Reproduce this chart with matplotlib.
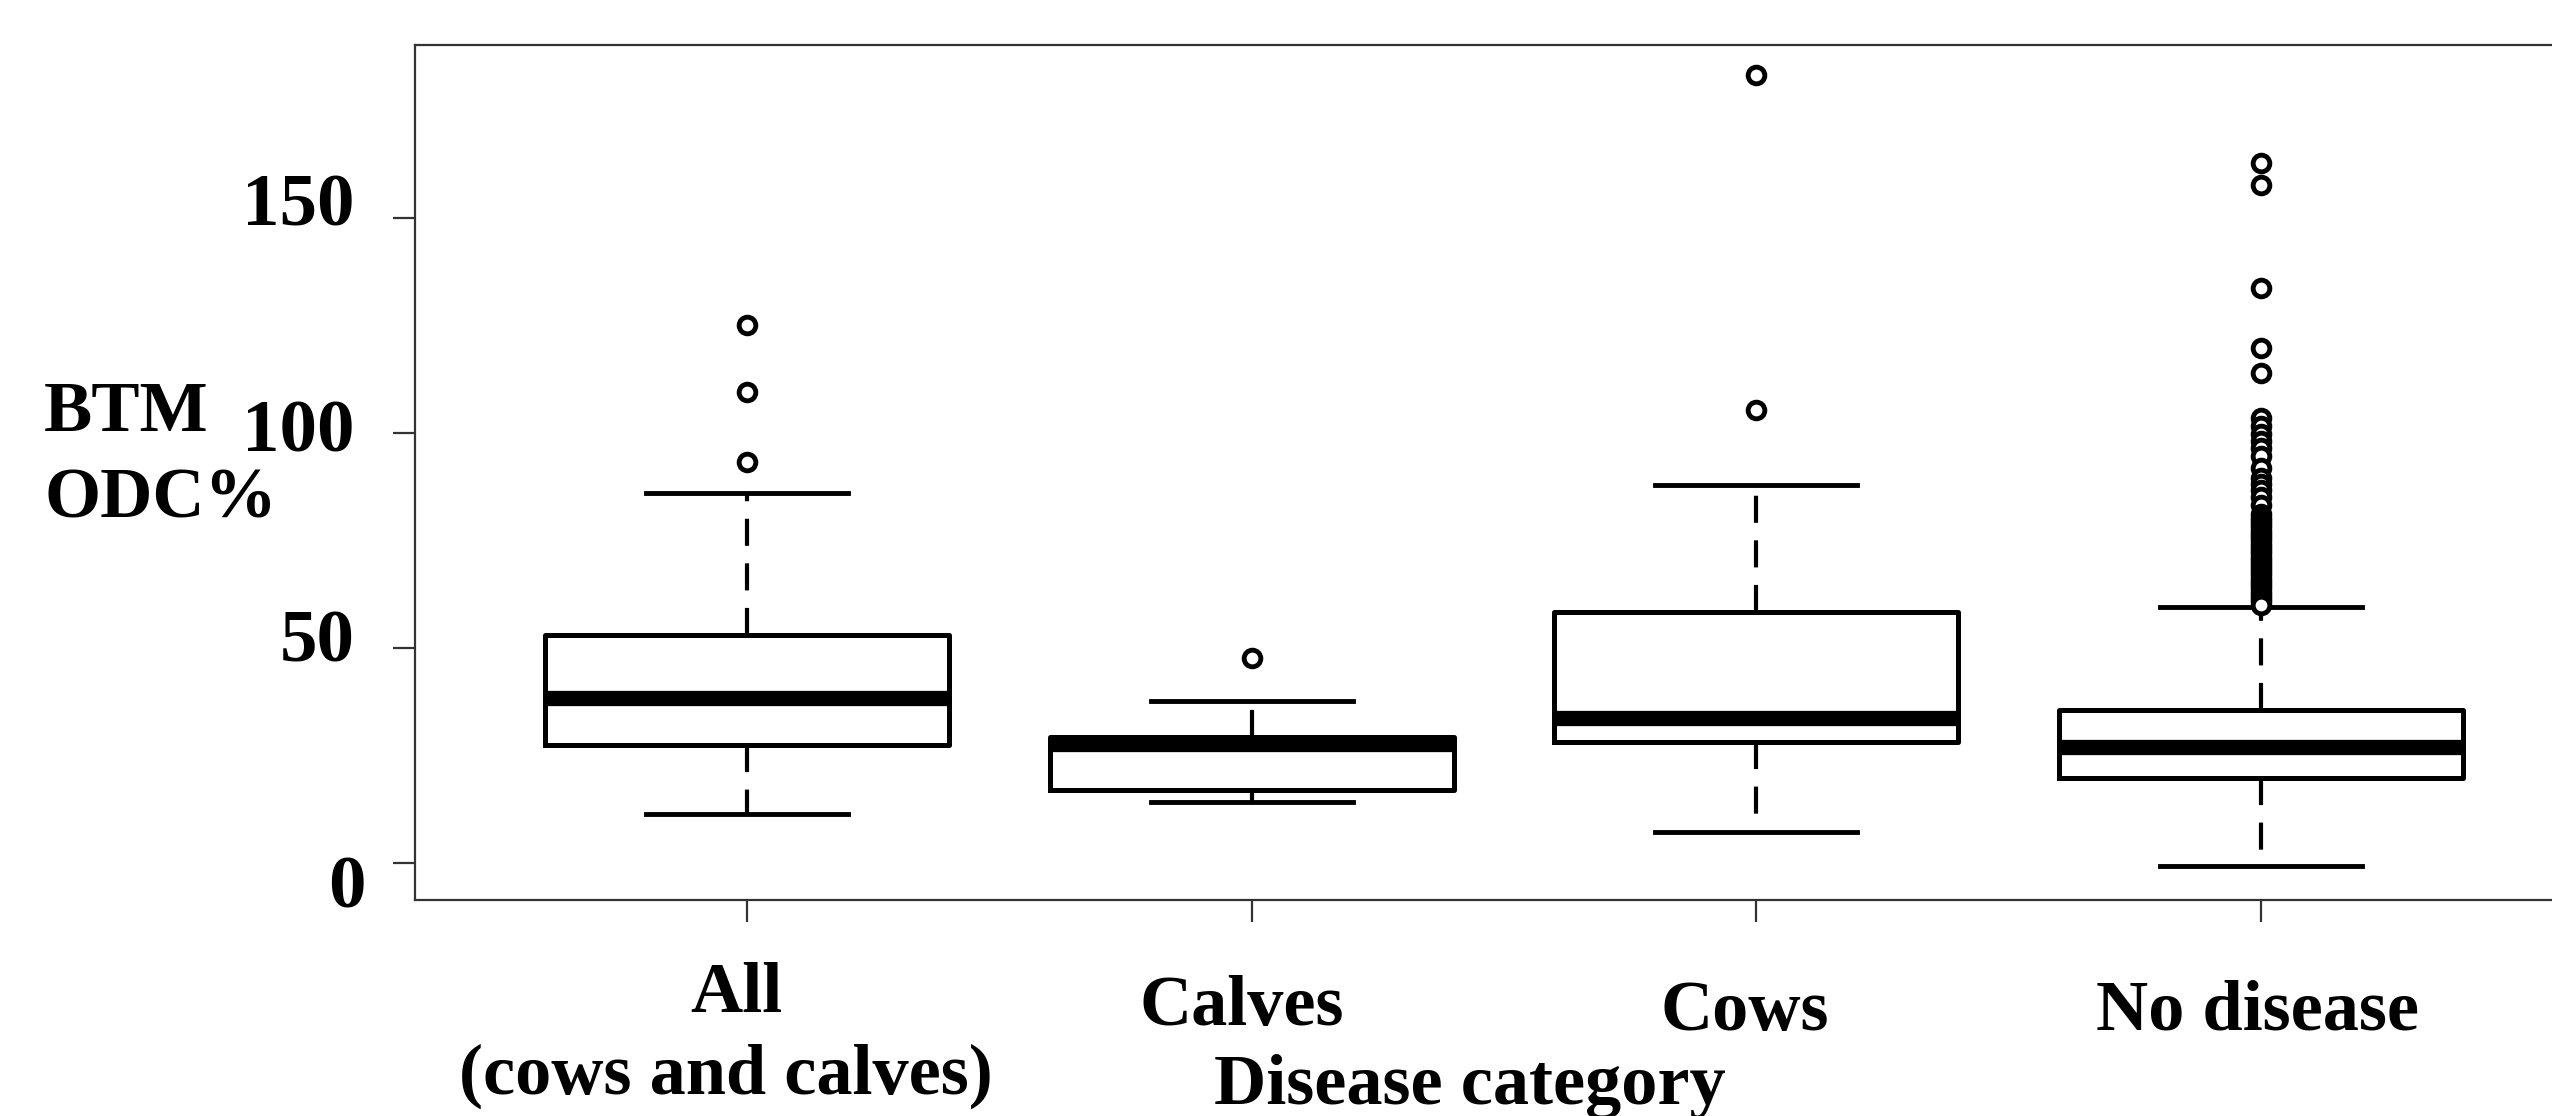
import matplotlib
matplotlib.use("Agg")
import matplotlib.pyplot as plt

# values
categories = ["All", "Calves", "Cows", "No disease"]
whislo = [11.4, 14.0, 7.2, -0.8]
q1 = [27.3, 17.0, 28.0, 19.7]
med = [38.3, 27.5, 33.7, 26.9]
q3 = [53.0, 29.2, 58.3, 35.6]
whishi = [86.0, 37.5, 87.9, 59.5]

fliers_all = [93.2, 109.5, 125.0]
fliers_calves = [47.7]
fliers_cows = [105.3, 183.3]
fliers_nodisease = [162.8, 157.7, 133.7, 119.8, 114.0, 103.5, 101.5, 99.6, 98.0,
                    96.5, 94.5, 91.9, 89.5, 88.0, 86.7, 85.0, 83.2, 81.0, 80.2,
                    79.5, 78.8, 78.0, 77.2, 76.5, 75.8, 75.0, 74.2, 73.5, 72.8,
                    72.0, 71.2, 70.5, 69.8, 69.0, 68.2, 67.5, 66.8, 66.0, 65.2,
                    64.5, 63.8, 63.0, 62.2, 61.5, 60.8, 60.0]
fliers = [fliers_all, fliers_calves, fliers_cows, fliers_nodisease]

yticks = [0, 50, 100, 150]

W, H = 2552, 1116
fig = plt.figure(figsize=(W / 100, H / 100), dpi=100)
fig.patch.set_facecolor("white")

# axes in pixel terms: left 415, top 45, bottom 900, right beyond edge
ax = fig.add_axes([415 / W, (H - 900) / H, 2185 / W, (900 - 45) / H])

stats = []
for i in range(len(categories)):
    stats.append({"whislo": whislo[i], "q1": q1[i], "med": med[i], "q3": q3[i],
                  "whishi": whishi[i], "fliers": fliers[i], "label": categories[i]})

ax.bxp(stats, positions=[1, 2, 3, 4], widths=0.8, capwidths=0.4,
       boxprops=dict(color="black", linewidth=3.6),
       medianprops=dict(color="black", linewidth=11, solid_capstyle="butt"),
       whiskerprops=dict(color="black", linewidth=3.0, linestyle=(0, (6.5, 4.2))),
       capprops=dict(color="black", linewidth=3.5),
       flierprops=dict(marker="o", markersize=12, markerfacecolor="white",
                       markeredgecolor="black", markeredgewidth=3.5, linestyle="none"))

ax.set_xlim(0.342, 4.672)
ax.set_ylim(-8.7, 190.2)

ax.spines["right"].set_visible(False)
for side in ["left", "top", "bottom"]:
    ax.spines[side].set_color("#333333")
    ax.spines[side].set_linewidth(1.6)

ax.set_yticks(yticks)
ax.set_yticklabels([])
ax.set_xticks([1, 2, 3, 4])
ax.set_xticklabels([])
ax.tick_params(axis="both", direction="out", length=16, width=1.6, color="#333333")

font = dict(family=["Liberation Serif", "DejaVu Serif"], weight="bold", color="black")


def px_text(x, y, s, size, ha="left"):
    fig.text(x / W, 1 - y / H, s, fontsize=size, ha=ha, va="baseline", **font)


# y tick numbers (placed by hand in the original)
px_text(355, 225, "150", 54, ha="right")
px_text(355, 451, "100", 54, ha="right")
px_text(355, 661, "50", 54, ha="right")
px_text(366, 907, "0", 54, ha="right")

# y axis title
px_text(44, 431, "BTM", 52)
px_text(44, 518, "ODC%", 52)

# category labels
px_text(736, 1012, "All", 52, ha="center")
px_text(726, 1094, "(cows and calves)", 52, ha="center")
px_text(1242, 1025, "Calves", 52, ha="center")
px_text(1745, 1030, "Cows", 52, ha="center")
px_text(2258, 1029, "No disease", 52, ha="center")

# x axis title
px_text(1470, 1104, "Disease category", 52, ha="center")

fig.savefig("out.png", dpi=100, facecolor="white")
